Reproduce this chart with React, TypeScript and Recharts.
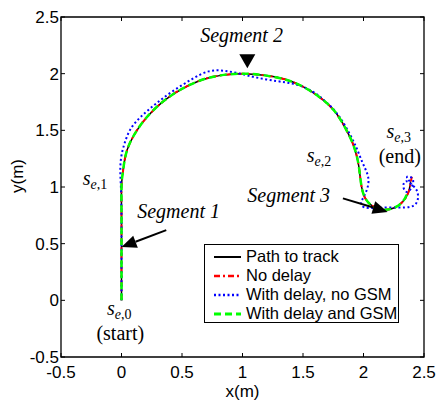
import { LineChart, Line, XAxis, YAxis, ReferenceLine, ReferenceDot, ReferenceArea, Label } from 'recharts';

const xTicks = [-0.5, 0, 0.5, 1, 1.5, 2, 2.5];
const yTicks = [-0.5, 0, 0.5, 1, 1.5, 2, 2.5];

// [x, y] in metres
const pathToTrack = [
  [0, 0], [0, 0.25], [0, 0.5], [0, 0.75], [0, 1.0], [0.01, 1.12], [0.03, 1.26], [0.07, 1.39],
  [0.14, 1.52], [0.23, 1.64], [0.35, 1.76], [0.49, 1.86], [0.65, 1.94], [0.82, 1.985], [1.0, 2.0],
  [1.18, 1.985], [1.35, 1.95], [1.5, 1.885], [1.64, 1.79], [1.76, 1.67], [1.85, 1.52], [1.92, 1.36],
  [1.96, 1.19], [1.98, 1.03], [2.01, 0.91], [2.07, 0.835], [2.16, 0.8], [2.25, 0.815], [2.32, 0.865],
  [2.37, 0.95], [2.39, 1.05],
];
const noDelay = [
  [0, 0], [0, 0.25], [0, 0.5], [0, 0.75], [0, 1.0], [0.01, 1.12], [0.03, 1.26], [0.07, 1.39],
  [0.14, 1.52], [0.23, 1.64], [0.35, 1.76], [0.49, 1.86], [0.65, 1.94], [0.82, 1.985], [1.0, 2.0],
  [1.18, 1.985], [1.35, 1.95], [1.5, 1.885], [1.64, 1.79], [1.76, 1.67], [1.85, 1.52], [1.92, 1.36],
  [1.96, 1.19], [1.98, 1.03], [2.01, 0.91], [2.07, 0.835], [2.16, 0.8], [2.25, 0.815], [2.32, 0.865],
  [2.37, 0.95], [2.39, 1.04], [2.4, 1.09],
];
const delayNoGsm = [
  [0, 0], [0, 0.25], [0, 0.5], [0, 0.75], [-0.005, 1.0], [-0.01, 1.15], [0.0, 1.28], [0.03, 1.4],
  [0.08, 1.52], [0.17, 1.63], [0.29, 1.74], [0.43, 1.85], [0.58, 1.95], [0.72, 2.02], [0.85, 2.025],
  [0.98, 2.0], [1.12, 1.965], [1.28, 1.935], [1.42, 1.91], [1.55, 1.86], [1.67, 1.77], [1.78, 1.65],
  [1.87, 1.5], [1.94, 1.35], [1.99, 1.22], [2.03, 1.12], [2.04, 1.03], [2.01, 0.93], [1.98, 0.86],
  [2.01, 0.82], [2.1, 0.815], [2.22, 0.82], [2.34, 0.82], [2.42, 0.84], [2.45, 0.9], [2.44, 0.97],
  [2.4, 1.02], [2.35, 1.05], [2.33, 1.0], [2.37, 0.96], [2.41, 1.06], [2.36, 1.09], [2.4, 1.03],
];
const delayGsm = [
  [0, 0], [0, 0.25], [0, 0.5], [0, 0.75], [0, 1.0], [0.01, 1.12], [0.03, 1.26], [0.07, 1.39],
  [0.14, 1.52], [0.23, 1.64], [0.35, 1.76], [0.49, 1.86], [0.65, 1.94], [0.82, 1.985], [1.0, 2.0],
  [1.18, 1.985], [1.35, 1.95], [1.5, 1.885], [1.64, 1.79], [1.76, 1.67], [1.85, 1.52], [1.92, 1.36],
  [1.96, 1.19], [1.98, 1.03], [2.01, 0.91], [2.07, 0.835], [2.16, 0.8], [2.25, 0.815], [2.32, 0.865],
  [2.36, 0.94],
];

const segmentLabels = [
  { text: 'Segment 1', x: 0.13, y: 0.73 },
  { text: 'Segment 2', x: 0.65, y: 2.28 },
  { text: 'Segment 3', x: 1.04, y: 0.87 },
];
const nodeLabels = [
  { sub: '1', x: -0.32, y: 1.02 },
  { sub: '2', x: 1.53, y: 1.22 },
  { sub: '3', x: 2.19, y: 1.43 },
  { sub: '0', x: -0.12, y: -0.13 },
];
const noteLabels = [
  { text: '(end)', x: 2.3, y: 1.21 },
  { text: '(start)', x: -0.01, y: -0.35 },
];
const arrows = [
  { from: { x: 0.37, y: 0.62 }, to: { x: 0.0, y: 0.47 } },
  { from: { x: 1.83, y: 0.9 }, to: { x: 2.2, y: 0.78 } },
];
const segment2Marker = { x: 1.04, y: 2.11 };

const series = [
  { name: 'Path to track', data: pathToTrack, color: '#000000', width: 1.5, dash: undefined },
  { name: 'No delay', data: noDelay, color: '#ff0000', width: 2, dash: '6 3 2 3' },
  { name: 'With delay, no GSM', data: delayNoGsm, color: '#0000ff', width: 2, dash: '2 2.5' },
  { name: 'With delay and GSM', data: delayGsm, color: '#00ff00', width: 2.5, dash: '7 4' },
];

const W = 441;
const H = 401;
const margin = { top: 17, right: 17, bottom: 0, left: 0 };
const Y_AXIS_W = 61;
const X_AXIS_H = 44;
const plotW = W - margin.left - margin.right - Y_AXIS_W;
const plotH = H - margin.top - margin.bottom - X_AXIS_H;
const TICK_PX = 4;
const tickDx = (TICK_PX * 3) / plotW;
const tickDy = (TICK_PX * 3) / plotH;

const SANS = '"Liberation Sans", Arial, sans-serif';
const SERIF = '"Liberation Serif", "Times New Roman", serif';

const toPts = (d: number[][]) => d.map(([x, y]) => ({ x, y }));

function Arrow(props: any) {
  const { x1, y1, x2, y2 } = props;
  const a = Math.atan2(y2 - y1, x2 - x1);
  const L = 15;
  const hw = 6.5;
  const bx = x2 - L * Math.cos(a);
  const by = y2 - L * Math.sin(a);
  const px = -Math.sin(a) * hw;
  const py = Math.cos(a) * hw;
  return (
    <g>
      <line x1={x1} y1={y1} x2={bx} y2={by} stroke="#000" strokeWidth={2} />
      <polygon points={`${x2},${y2} ${bx + px},${by + py} ${bx - px},${by - py}`} fill="#000" />
    </g>
  );
}

export default function App() {
  return (
    <div style={{ position: 'absolute', left: 0, top: 0, width: W, height: H, background: '#fff' }}>
      <LineChart width={W} height={H} margin={margin}>
        <XAxis
          type="number"
          dataKey="x"
          domain={[-0.5, 2.5]}
          ticks={xTicks}
          interval={0}
          allowDataOverflow
          height={X_AXIS_H}
          axisLine={false}
          tickLine={false}
          tickSize={0}
          tickMargin={9}
          tick={{ fill: '#000', fontSize: 17, fontFamily: SANS }}
        >
          <Label value="x(m)" position="insideBottom" offset={4} style={{ fill: '#000', fontSize: 17, fontFamily: SANS }} />
        </XAxis>
        <YAxis
          type="number"
          dataKey="y"
          domain={[-0.5, 2.5]}
          ticks={yTicks}
          interval={0}
          allowDataOverflow
          width={Y_AXIS_W}
          axisLine={false}
          tickLine={false}
          tickSize={0}
          tickMargin={2}
          tick={{ fill: '#000', fontSize: 17, fontFamily: SANS }}
        >
          <Label
            content={() => (
              <text x={23} y={176} transform="rotate(-90 23 176)" textAnchor="middle" fontSize={17} fontFamily={SANS} fill="#000">
                y(m)
              </text>
            )}
          />
        </YAxis>

        <ReferenceArea x1={-0.5} x2={2.5} y1={-0.5} y2={2.5} fill="none" stroke="#000" strokeWidth={1.3} ifOverflow="visible" />
        {xTicks.map((t) => (
          <ReferenceLine key={`xb${t}`} segment={[{ x: t, y: -0.5 }, { x: t, y: -0.5 + tickDy }]} stroke="#000" />
        ))}
        {xTicks.map((t) => (
          <ReferenceLine key={`xt${t}`} segment={[{ x: t, y: 2.5 }, { x: t, y: 2.5 - tickDy }]} stroke="#000" />
        ))}
        {yTicks.map((t) => (
          <ReferenceLine key={`yl${t}`} segment={[{ x: -0.5, y: t }, { x: -0.5 + tickDx, y: t }]} stroke="#000" />
        ))}
        {yTicks.map((t) => (
          <ReferenceLine key={`yr${t}`} segment={[{ x: 2.5, y: t }, { x: 2.5 - tickDx, y: t }]} stroke="#000" />
        ))}

        {series.map((s) => (
          <Line
            key={s.name}
            data={toPts(s.data)}
            dataKey="y"
            type="natural"
            stroke={s.color}
            strokeWidth={s.width}
            strokeDasharray={s.dash}
            dot={false}
            activeDot={false}
            isAnimationActive={false}
          />
        ))}

        {arrows.map((a, i) => (
          <ReferenceLine key={`arrow${i}`} segment={[a.from, a.to]} shape={Arrow} ifOverflow="visible" />
        ))}
        <ReferenceDot
          x={segment2Marker.x}
          y={segment2Marker.y}
          r={0}
          shape={(p: any) => (
            <polygon points={`${p.cx - 8},${p.cy - 7} ${p.cx + 8},${p.cy - 7} ${p.cx},${p.cy + 7}`} fill="#000" />
          )}
        />
        {segmentLabels.map((l) => (
          <ReferenceDot
            key={l.text}
            x={l.x}
            y={l.y}
            r={0}
            shape={(p: any) => (
              <text x={p.cx} y={p.cy} fontFamily={SERIF} fontStyle="italic" fontSize={20} fill="#000">
                {l.text}
              </text>
            )}
          />
        ))}
        {nodeLabels.map((l) => (
          <ReferenceDot
            key={`s${l.sub}`}
            x={l.x}
            y={l.y}
            r={0}
            shape={(p: any) => (
              <text x={p.cx} y={p.cy} fontFamily={SERIF} fill="#000">
                <tspan fontSize={20} fontStyle="italic">s</tspan>
                <tspan fontSize={14} fontStyle="italic" dy={4}>e</tspan>
                <tspan fontSize={14}>,{l.sub}</tspan>
              </text>
            )}
          />
        ))}
        {noteLabels.map((l) => (
          <ReferenceDot
            key={l.text}
            x={l.x}
            y={l.y}
            r={0}
            shape={(p: any) => (
              <text x={p.cx} y={p.cy} textAnchor="middle" fontFamily={SERIF} fontSize={20} fill="#000">
                {l.text}
              </text>
            )}
          />
        ))}
      </LineChart>

      <div
        style={{
          position: 'absolute',
          left: 204,
          top: 244,
          width: 195,
          height: 79,
          boxSizing: 'border-box',
          border: '1.5px solid #000',
          background: '#fff',
          padding: '2px 0 0 8px',
          fontFamily: SANS,
          fontSize: 16.5,
          color: '#000',
        }}
      >
        {series.map((s) => (
          <div key={s.name} style={{ display: 'flex', alignItems: 'center', height: 19, whiteSpace: 'nowrap' }}>
            <svg width={30} height={10} style={{ marginRight: 3 }}>
              <line x1={1} y1={5} x2={28} y2={5} stroke={s.color} strokeWidth={s.width + 0.5} strokeDasharray={s.dash} />
            </svg>
            <span>{s.name}</span>
          </div>
        ))}
      </div>
    </div>
  );
}
